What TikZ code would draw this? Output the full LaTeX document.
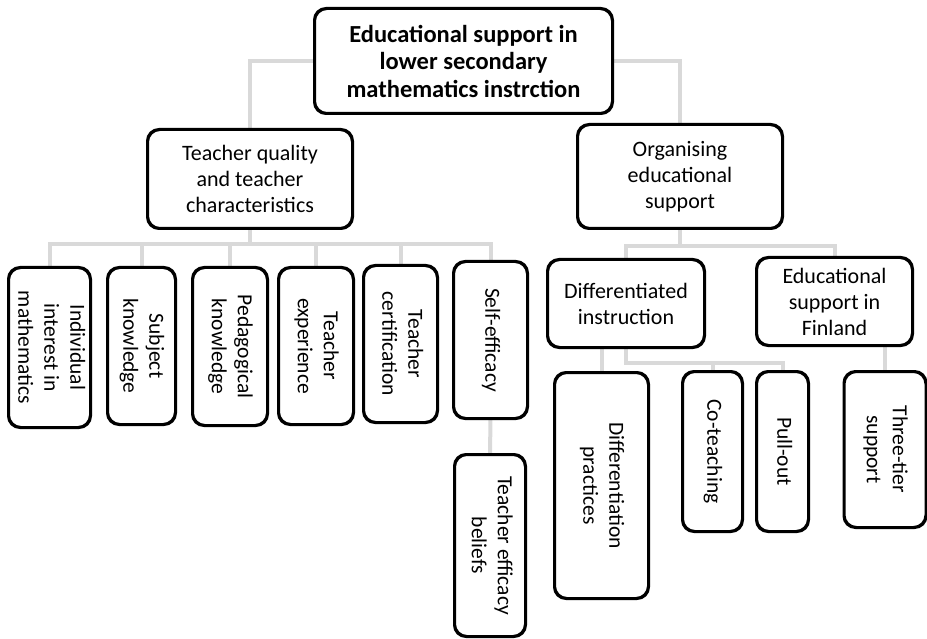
\documentclass[tikz,border=0pt]{standalone}
\usepackage{fontspec}
\setmainfont{Carlito}
\usepackage{graphicx}
\newcommand{\vtxt}[1]{\rotatebox{-90}{\begin{tabular}{@{}c@{}}#1\end{tabular}}}
\tikzset{
  box/.style={draw=black, line width=2pt, rounded corners=12pt, fill=white,
    inner sep=0pt, align=center, font=\fontsize{22}{26}\selectfont},
  vbox/.style={box, font=\fontsize{21.5}{26}\selectfont},
  conn/.style={draw=black!15, line width=4pt},
}
\begin{document}
\begin{tikzpicture}[x=1pt,y=-1pt]
\useasboundingbox (0,0) rectangle (927,639);
% boxes
\node[box, minimum width=297pt, minimum height=104pt, font=\fontsize{24.5}{27.5}\selectfont\bfseries] (root) at (463.5,61) {Educational support in\\lower secondary\\mathematics instrction};
\node[box, minimum width=204pt, minimum height=98pt] (tq) at (250,179) {Teacher quality\\and teacher\\characteristics};
\node[box, minimum width=204pt, minimum height=103pt] (org) at (680,176.5) {Organising\\educational\\support};
\node[vbox, minimum width=81pt, minimum height=159pt] (ind) at (49.5,347.5) {\vtxt{Individual\\interest in\\mathematics}};
\node[vbox, minimum width=67pt, minimum height=156pt] (subj) at (141.5,346) {\vtxt{Subject\\knowledge}};
\node[vbox, minimum width=74pt, minimum height=157pt] (ped) at (230,346.5) {\vtxt{Pedagogical\\knowledge}};
\node[vbox, minimum width=74pt, minimum height=156pt] (exp) at (316,346) {\vtxt{Teacher\\experience}};
\node[vbox, minimum width=73pt, minimum height=156pt] (cert) at (400.5,344) {\vtxt{Teacher\\certification}};
\node[vbox, minimum width=73pt, minimum height=156pt] (self) at (490.5,340) {\vtxt{Self-efficacy}};
\node[vbox, minimum width=70pt, minimum height=181pt] (bel) at (490,545.5) {\vtxt{Teacher efficacy\\beliefs}};
\node[box, minimum width=156pt, minimum height=87pt] (diff) at (626,303.5) {Differentiated\\instruction};
\node[box, minimum width=155pt, minimum height=87pt] (fin) at (834.5,301.5) {Educational\\support in\\Finland};
\node[vbox, minimum width=93pt, minimum height=225pt] (dp) at (601.5,485.5) {\vtxt{Differentiation\\practices}};
\node[vbox, minimum width=59pt, minimum height=159pt] (cot) at (712.5,451.5) {\vtxt{Co-teaching}};
\node[vbox, minimum width=51pt, minimum height=159pt] (pull) at (782.5,451.5) {\vtxt{Pull-out}};
\node[vbox, minimum width=81pt, minimum height=155pt] (three) at (885,449.5) {\vtxt{Three-tier\\support}};
% connectors
\draw[conn] (root.west) -| (tq.north);
\draw[conn] (root.east) -| (org.north);
\foreach \n in {ind,subj,ped,exp,cert,self}
  \draw[conn] (tq.south) -- ++(0,15) -| (\n.north);
\draw[conn] (self.south) -- (bel.north);
\draw[conn] (org.south) -- ++(0,17) -| (diff.north);
\draw[conn] (org.south) -- ++(0,17) -| (fin.north);
\draw[conn] (dp.north) -- (dp.north |- diff.south);
\draw[conn] (diff.south) -- ++(0,15) -| (cot.north);
\draw[conn] (diff.south) -- ++(0,15) -| (pull.north);
\draw[conn] (three.north) -- (three.north |- fin.south);
% redraw box outlines over connector ends
\foreach \n in {root,tq,org,ind,subj,ped,exp,cert,self,bel,diff,fin,dp,cot,pull,three}
  \draw[line width=2pt, rounded corners=12pt] (\n.north west) rectangle (\n.south east);
\end{tikzpicture}
\end{document}
